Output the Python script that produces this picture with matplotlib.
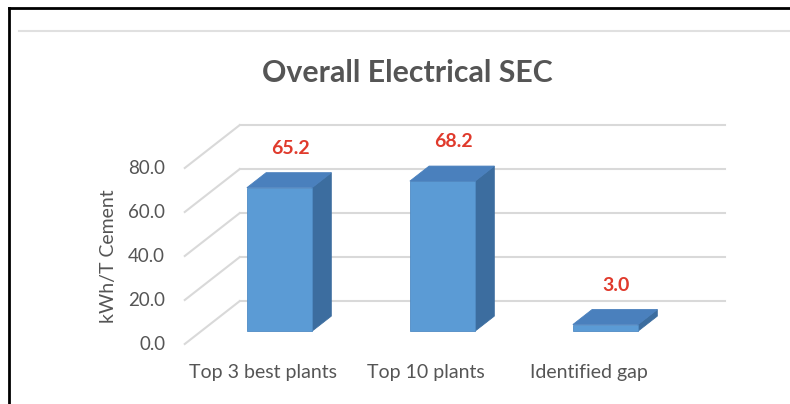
import matplotlib.pyplot as plt
from matplotlib.patches import Polygon
from matplotlib.lines import Line2D

# data
categories = ["Top 3 best plants", "Top 10 plants", "Identified gap"]
values = [65.2, 68.2, 3.0]
value_labels = ["65.2", "68.2", "3.0"]
yticks = [0, 20, 40, 60, 80]

plt.rcParams["font.family"] = ["Lato", "DejaVu Sans"]

# fake 3D projection: depth d in [0, 1] shifts points up/right
DX = 0.337    # category units per unit of depth
DY = 19.5     # value units per unit of depth
BAR_W = 0.40
D0, D1 = 0.30, 0.65   # bar depth range
WALL_L, WALL_R = -0.48, 2.50

def proj(x, y, d):
    return x + d * DX, y + d * DY

fig = plt.figure(figsize=(7.9, 4.04), dpi=100)
ax = fig.add_axes([0, 0, 1, 1])
ax.set_xlim(-263 / 163, (790 - 263) / 163)
ax.set_ylim(-60 / 2.2, 344 / 2.2)
ax.axis("off")

grid_c = "#d9d9d9"
text_c = "#555555"

# back wall gridlines + side wall diagonals
for v in yticks:
    x0, y0 = proj(WALL_L, v, 1)
    x1, y1 = proj(WALL_R, v, 1)
    ax.plot([x0, x1], [y0, y1], color=grid_c, lw=1.5, zorder=1)
    xa, ya = proj(WALL_L, v, 0)
    ax.plot([xa, x0], [ya, y0], color=grid_c, lw=1.5, zorder=1)
    ax.text(xa - 0.12, ya, f"{v:.1f}", ha="right", va="center",
            fontsize=13.5, color=text_c)

front_c = "#5b9bd5"
side_c = "#3c6d9f"
top_c = "#4a80bd"

xs = range(len(values))
fx = [x + D0 * DX for x in xs]
ax.bar(fx, values, width=BAR_W, bottom=D0 * DY, color=front_c,
       edgecolor="#4f8bc4", lw=0.6, zorder=3)

for x, v, lab in zip(xs, values, value_labels):
    xl, xr = x - BAR_W / 2, x + BAR_W / 2
    side = [proj(xr, 0, D0), proj(xr, 0, D1), proj(xr, v, D1), proj(xr, v, D0)]
    top = [proj(xl, v, D0), proj(xr, v, D0), proj(xr, v, D1), proj(xl, v, D1)]
    ax.add_patch(Polygon(side, closed=True, fc=side_c, ec=side_c, lw=0.6, zorder=2))
    ax.add_patch(Polygon(top, closed=True, fc=top_c, ec=top_c, lw=0.6, zorder=4))
    lx, ly = proj(x, v + 14, 0.5)
    ax.text(lx, ly, lab, ha="center", va="center", fontsize=14,
            fontweight="bold", color="#e03a2c", zorder=5)
    ax.text(x, -13, categories[x], ha="center", va="center",
            fontsize=14, color=text_c)

ax.text(-0.95, 40, "kWh/T Cement", rotation=90, ha="center", va="center",
        fontsize=14, color=text_c)

fig.text(407 / 790, 1 - 73 / 404, "Overall Electrical SEC", ha="center",
         va="center", fontsize=21.8, fontweight="bold", color=text_c)

# frame lines
fig.add_artist(Line2D([9 / 790, 1], [1 - 8 / 404] * 2, color="black", lw=2))
fig.add_artist(Line2D([9 / 790] * 2, [0, 1 - 8 / 404], color="black", lw=2))
fig.add_artist(Line2D([19 / 790, 1], [1 - 31 / 404] * 2, color="#e0e0e0", lw=1.5))

fig.savefig("out.png", dpi=100)
